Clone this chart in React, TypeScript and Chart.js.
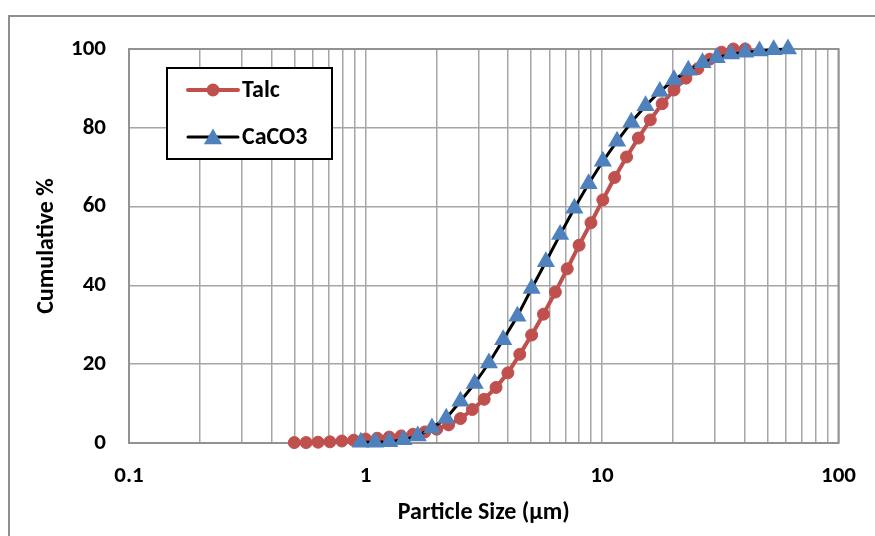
import React, { useEffect, useRef } from 'react';
import { Chart, registerables } from 'chart.js';

Chart.register(...registerables);

const FONT = "Carlito, Calibri, Lato, 'Open Sans', sans-serif";

// Talc: particle size (µm) and cumulative %
const talcSize = [0.5, 0.561, 0.63, 0.707, 0.794, 0.891, 1.0, 1.122, 1.26, 1.414, 1.587, 1.782, 2.0, 2.245, 2.52, 2.828, 3.175, 3.564, 4.0, 4.49, 5.04, 5.657, 6.35, 7.127, 8.0, 8.98, 10.08, 11.31, 12.7, 14.25, 16.0, 17.96, 20.16, 22.63, 25.4, 28.51, 32.0, 35.92, 40.32];
const talcCum = [0.1, 0.1, 0.2, 0.3, 0.5, 0.7, 1.0, 1.2, 1.5, 1.8, 2.2, 2.8, 3.5, 4.6, 6.2, 8.5, 11.1, 14.1, 17.8, 22.5, 27.4, 32.7, 38.3, 44.2, 50.2, 55.9, 61.7, 67.4, 72.6, 77.4, 82.0, 86.1, 89.6, 92.6, 95.0, 97.4, 99.2, 100, 100];

// CaCO3: particle size (µm) and cumulative %
const caco3Size = [0.955, 1.097, 1.26, 1.447, 1.663, 1.91, 2.194, 2.52, 2.895, 3.325, 3.82, 4.388, 5.04, 5.79, 6.651, 7.64, 8.776, 10.08, 11.58, 13.3, 15.28, 17.55, 20.16, 23.16, 26.6, 30.56, 35.1, 40.32, 46.32, 53.2, 61.12];
const caco3Cum = [0.2, 0.2, 0.3, 0.8, 1.8, 3.8, 6.3, 10.6, 15.1, 20.3, 26.2, 32.2, 39.2, 46.0, 52.9, 59.6, 65.8, 71.5, 76.6, 81.4, 85.6, 89.2, 92.2, 94.6, 96.5, 97.8, 98.7, 99.2, 99.5, 99.8, 100];

const seriesNames = ['Talc', 'CaCO3'];
const xTitle = 'Particle Size (µm)';
const yTitle = 'Cumulative %';

// log-axis gridline positions and labelled ticks
const xGridValues = [0.1, 0.2, 0.3, 0.4, 0.5, 0.6, 0.7, 0.8, 0.9, 1, 2, 3, 4, 5, 6, 7, 8, 9, 10, 20, 30, 40, 50, 60, 70, 80, 90, 100];
const xLabelValues = [0.1, 1, 10, 100];
const xLabels = ['0.1', '1', '10', '100'];
const yMin = 0;
const yMax = 100;
const yStep = 20;

const RED = '#C0504D';
const BLUE = '#4F81BD';

const framePlugin = {
  id: 'frame',
  beforeDraw(chart: any) {
    const ctx = chart.ctx;
    ctx.save();
    ctx.fillStyle = '#ffffff';
    ctx.fillRect(0, 0, chart.width, chart.height);
    ctx.strokeStyle = '#8e8e8e';
    ctx.lineWidth = 2;
    ctx.beginPath();
    ctx.moveTo(9, chart.height);
    ctx.lineTo(9, 16);
    ctx.lineTo(chart.width, 16);
    ctx.stroke();
    ctx.restore();
  },
  beforeDatasetsDraw(chart: any) {
    const { ctx, chartArea: a } = chart;
    ctx.save();
    ctx.strokeStyle = '#929292';
    ctx.lineWidth = 2;
    ctx.strokeRect(a.left, a.top, a.right - a.left, a.bottom - a.top);
    ctx.restore();
  },
};

function drawTriangle(ctx: CanvasRenderingContext2D, x: number, y: number, r: number) {
  ctx.beginPath();
  ctx.moveTo(x, y - r);
  ctx.lineTo(x + 0.866 * r, y + 0.5 * r);
  ctx.lineTo(x - 0.866 * r, y + 0.5 * r);
  ctx.closePath();
  ctx.fill();
}

const legendPlugin = {
  id: 'boxLegend',
  afterDatasetsDraw(chart: any) {
    const ctx = chart.ctx;
    ctx.save();
    const bx = 167, by = 68, bw = 165, bh = 91;
    ctx.fillStyle = '#ffffff';
    ctx.fillRect(bx, by, bw, bh);
    ctx.strokeStyle = '#000000';
    ctx.lineWidth = 2;
    ctx.strokeRect(bx, by, bw, bh);

    // Talc row
    ctx.strokeStyle = RED;
    ctx.lineWidth = 4;
    ctx.lineCap = 'round';
    ctx.beginPath();
    ctx.moveTo(188, 90);
    ctx.lineTo(238, 90);
    ctx.stroke();
    ctx.fillStyle = RED;
    ctx.beginPath();
    ctx.arc(213, 90, 6.5, 0, Math.PI * 2);
    ctx.fill();

    // CaCO3 row
    ctx.strokeStyle = '#000000';
    ctx.lineWidth = 3;
    ctx.beginPath();
    ctx.moveTo(188, 137);
    ctx.lineTo(238, 137);
    ctx.stroke();
    ctx.fillStyle = BLUE;
    drawTriangle(ctx, 213, 139, 10.5);

    ctx.fillStyle = '#000000';
    ctx.font = `bold 24px ${FONT}`;
    ctx.textBaseline = 'middle';
    ctx.textAlign = 'left';
    ctx.fillText(seriesNames[0], 242, 91);
    ctx.fillText(seriesNames[1], 242, 138);
    ctx.restore();
  },
};

export default function App() {
  const ref = useRef<HTMLCanvasElement>(null);

  useEffect(() => {
    const canvas = ref.current;
    if (!canvas) return;
    const tickFont = { family: FONT, size: 23, weight: 'bold' as const };
    const titleFont = { family: FONT, size: 24, weight: 'bold' as const };
    const chart = new Chart(canvas, {
      type: 'line',
      data: {
        datasets: [
          {
            label: seriesNames[0],
            data: talcSize.map((x, i) => ({ x, y: talcCum[i] })),
            borderColor: RED,
            backgroundColor: RED,
            borderWidth: 4,
            borderJoinStyle: 'round',
            borderCapStyle: 'round',
            pointStyle: 'circle',
            pointRadius: 6,
            pointBorderWidth: 1,
            pointBackgroundColor: RED,
            pointBorderColor: RED,
            tension: 0,
            clip: false as any,
            order: 2,
          },
          {
            label: seriesNames[1],
            data: caco3Size.map((x, i) => ({ x, y: caco3Cum[i] })),
            borderColor: '#000000',
            backgroundColor: BLUE,
            borderWidth: 3,
            borderJoinStyle: 'round',
            borderCapStyle: 'round',
            pointStyle: 'triangle',
            pointRadius: 10.5,
            pointBorderWidth: 0,
            pointBackgroundColor: BLUE,
            pointBorderColor: BLUE,
            tension: 0,
            clip: false as any,
            order: 1,
          },
        ],
      },
      options: {
        responsive: false,
        animation: false,
        events: [],
        layout: { padding: { left: 0, top: 49, right: 33, bottom: 0 } },
        plugins: {
          legend: { display: false },
          tooltip: { enabled: false },
        },
        scales: {
          x: {
            type: 'logarithmic',
            min: xGridValues[0],
            max: xGridValues[xGridValues.length - 1],
            afterFit: (s: any) => { s.height = 93; },
            afterBuildTicks: (s: any) => {
              s.ticks = xGridValues.map((v) => ({ value: v, major: false }));
            },
            grid: { color: '#a6a6a6', lineWidth: 1.5, drawTicks: false },
            border: { display: false },
            ticks: {
              autoSkip: false,
              maxRotation: 0,
              minRotation: 0,
              padding: 19,
              color: '#000000',
              font: tickFont,
              callback: (v: any) => {
                const idx = xLabelValues.findIndex((lv) => Math.abs(lv - Number(v)) < 1e-9);
                return idx >= 0 ? xLabels[idx] : '';
              },
            },
            title: {
              display: true,
              text: xTitle,
              color: '#000000',
              font: titleFont,
              padding: { top: 0, bottom: 9 },
            },
          },
          y: {
            type: 'linear',
            min: yMin,
            max: yMax,
            afterFit: (s: any) => { s.width = 129; },
            grid: { color: '#a6a6a6', lineWidth: 1.5, drawTicks: false },
            border: { display: false },
            ticks: {
              stepSize: yStep,
              padding: 23,
              color: '#000000',
              font: tickFont,
            },
            title: {
              display: true,
              text: yTitle,
              color: '#000000',
              font: titleFont,
              padding: { top: 33, bottom: 0 },
            },
          },
        },
      },
      plugins: [framePlugin, legendPlugin],
    } as any);
    return () => chart.destroy();
  }, []);

  return (
    <div style={{ position: 'absolute', left: 0, top: 0, width: 875, height: 536 }}>
      <canvas ref={ref} width={875} height={536} style={{ display: 'block' }} />
    </div>
  );
}
